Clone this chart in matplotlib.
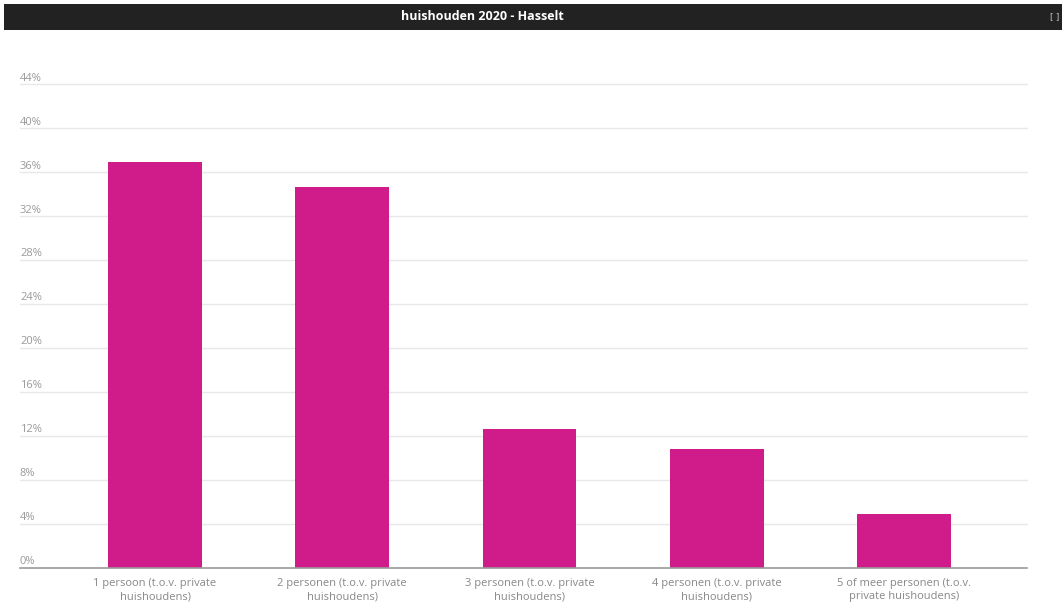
import matplotlib
matplotlib.use("Agg")
import matplotlib.pyplot as plt
import matplotlib.transforms as mtransforms
from matplotlib.patches import Rectangle

title = "huishouden 2020 - Hasselt"
categories = [
    "1 persoon (t.o.v. private\nhuishoudens)",
    "2 personen (t.o.v. private\nhuishoudens)",
    "3 personen (t.o.v. private\nhuishoudens)",
    "4 personen (t.o.v. private\nhuishoudens)",
    "5 of meer personen (t.o.v.\nprivate huishoudens)",
]
values = [36.97, 34.67, 12.62, 10.83, 4.91]
yticks = [0, 4, 8, 12, 16, 20, 24, 28, 32, 36, 40, 44]
ytick_labels = [f"{t}%" for t in yticks]

W, H = 1062, 602
fig = plt.figure(figsize=(W / 100, H / 100), dpi=100)
fig.patch.set_facecolor("white")

# title bar
fig.patches.append(Rectangle((4 / W, 1 - 30 / H), 1 - 4 / W, 26 / H,
                             transform=fig.transFigure, facecolor="#222222",
                             edgecolor="none", zorder=0))
fig.text(482 / W, 1 - 17 / H, title, ha="center", va="center",
         color="white", fontsize=9, fontweight="bold", family="Open Sans")
fig.text(1055 / W, 1 - 17 / H, "[ ]", ha="center", va="center",
         color="#cccccc", fontsize=6, family="DejaVu Sans")

left, right = 20 / W, 1027 / W
bottom = (H - 568) / H
top = (H - 84.3) / H
ax = fig.add_axes([left, bottom, right - left, top - bottom])
ax.set_facecolor("white")

x = list(range(len(categories)))
ax.bar(x, values, width=0.5, color="#D01C8B", zorder=3)
ax.set_xlim(-0.721, 4.656)
ax.set_ylim(0, 44)

for s in ["top", "right", "left"]:
    ax.spines[s].set_visible(False)
ax.spines["bottom"].set_color("#999999")
ax.spines["bottom"].set_linewidth(1.2)
ax.spines["bottom"].set_zorder(4)

for t in yticks[1:]:
    ax.axhline(t, color="#e8e8e8", linewidth=1, zorder=1, clip_on=False)
ax.set_yticks([])

trans = mtransforms.offset_copy(ax.get_yaxis_transform(), fig=fig, x=0, y=0.5, units="points")
for t, lab in zip(yticks, ytick_labels):
    ax.text(0.0, t, lab, transform=trans, ha="left", va="bottom",
            color="#999999", fontsize=8, family="Open Sans")

ax.set_xticks(x)
ax.set_xticklabels(categories, color="#888888", fontsize=8, family="Open Sans",
                   linespacing=1.3)
ax.tick_params(axis="x", length=0, pad=7)

fig.savefig("out.png", dpi=100, facecolor="white")
